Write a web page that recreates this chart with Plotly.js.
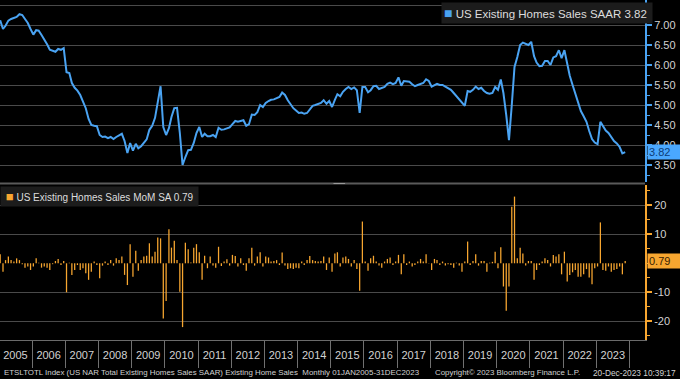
<!DOCTYPE html>
<html>
<head>
<meta charset="utf-8">
<script src="https://cdn.plot.ly/plotly-3.0.1.min.js"></script>
<style>html,body{margin:0;padding:0;background:#000;}#chart{width:680px;height:379px;}</style>
</head>
<body>
<div id="chart"></div>
<script>
// US Existing Home Sales SAAR (millions), monthly Jan 2005 - Nov 2023
const salesSAAR = [
7.12,6.90,6.98,7.11,7.15,7.18,7.20,7.27,7.25,7.15,7.05,6.90,
6.76,6.87,6.86,6.75,6.65,6.52,6.38,6.35,6.33,6.40,6.38,6.42,
5.82,5.80,5.55,5.43,5.36,5.25,5.10,4.92,4.65,4.50,4.48,4.47,
4.25,4.20,4.21,4.17,4.20,4.15,4.20,4.24,4.28,4.10,3.80,4.05,
3.86,4.03,3.92,3.97,4.06,4.14,4.38,4.48,4.68,5.08,5.47,4.45,
4.25,4.42,4.70,4.92,4.93,4.30,3.50,3.70,3.87,3.88,4.05,4.30,
4.45,4.20,4.28,4.22,4.22,4.25,4.20,4.43,4.38,4.39,4.42,4.44,
4.52,4.60,4.58,4.60,4.62,4.48,4.52,4.76,4.75,4.82,5.00,4.95,
5.05,5.10,5.13,5.14,5.16,5.20,5.31,5.25,5.12,5.02,4.92,4.86,
4.80,4.81,4.78,4.80,4.90,4.98,5.00,5.02,5.05,5.12,5.03,5.10,
4.95,5.13,5.27,5.22,5.33,5.40,5.45,5.40,5.44,5.37,4.80,5.45,
5.45,5.32,5.37,5.47,5.48,5.40,5.42,5.45,5.53,5.56,5.52,5.55,
5.69,5.48,5.60,5.58,5.58,5.52,5.47,5.50,5.53,5.55,5.64,5.60,
5.46,5.50,5.53,5.50,5.50,5.46,5.43,5.38,5.30,5.22,5.15,5.05,
4.98,5.35,5.33,5.38,5.46,5.40,5.43,5.35,5.30,5.28,5.30,5.45,
5.38,5.64,5.30,4.75,4.12,5.00,5.95,6.20,6.50,6.56,6.52,6.50,
6.58,6.22,6.06,5.97,5.98,6.10,6.10,6.00,6.19,6.22,6.37,6.17,
6.37,6.05,5.73,5.50,5.30,5.10,4.85,4.72,4.58,4.35,4.15,4.06,
4.02,4.58,4.48,4.36,4.30,4.20,4.10,4.04,3.95,3.79,3.82
];
// US Existing Home Sales MoM % (SA), same months
const salesMoM = [
3.1,-2.9,1.1,2.3,1.1,0.6,1.7,1.1,-0.3,-1.5,-1.1,-2.3,
-1.1,1.7,0.2,-1.5,-1.1,-1.5,-2.3,-0.3,0.8,1.5,-0.6,0.8,
-10,0.2,-4,-2.3,-0.6,-2.3,-1.7,-3.4,-5.7,-2.9,0.6,-0.6,
-5.2,-0.8,0.6,-0.6,1.1,-0.8,1.7,1.1,2.3,-4,-7.5,6.6,
-4.6,4.3,-2.6,1.1,2.3,2.6,6.9,2.3,4.0,8.9,8.6,-19,
-13,11.7,5.4,7.8,1.1,-9.8,-22,7.1,4.8,0.3,5.4,6.6,
3.8,-5.7,2.6,-1.7,2.3,-0.8,-1.5,5.7,-0.9,0.6,1.4,-0.8,
2.9,2.5,-1.1,1.7,-0.6,-2.6,1.7,5.4,-0.8,2.3,3.8,-1.1,
2.3,2.0,0.6,0.8,1.1,-0.6,3.7,-0.8,-2.0,-1.7,-2.0,-1.5,
-1.7,0.6,-0.6,1.1,2.5,1.1,0.8,0.6,0.8,2.3,-2.3,2.0,
-2.9,3.4,3.8,-1.1,2.0,2.3,1.5,-1.1,1.1,-2.0,-9.5,14.4,
0.6,-2.6,1.7,2.6,0.6,-0.8,-1.5,0.6,1.5,2.0,-0.6,0.6,
2.9,-3.8,3.1,-0.6,0.6,-1.1,-0.6,0.6,1.5,0.6,3.1,0.1,
-2.3,1.5,1.1,-0.6,0.6,-0.8,-0.3,-0.6,-1.5,0.2,-0.8,-2.9,
0.6,7.5,-0.6,0.8,3.1,-0.8,0.8,0.8,-2.9,0.2,0.5,4.0,
-1.7,5.5,-8,-16.4,-8,19.5,23,1.7,5.4,3.4,-0.8,0.8,
0.8,-5.7,-2.3,-0.6,0.6,1.7,1.1,-1.1,2.9,2.3,3.1,-3.8,
4.0,-6.3,-4.0,-3.1,-2.3,-4.6,-4.6,-3.8,-2.0,-4.9,-7.2,-1.7,
-1.1,14.1,-2.3,-2.6,-1.1,-2.9,-2.3,-2.0,-1.1,-3.8,0.79
];
const firstYear = 2005;
const yearLabels = ['2005','2006','2007','2008','2009','2010','2011','2012','2013','2014','2015','2016','2017','2018','2019','2020','2021','2022','2023'];
const topTicks = [3.5,4.0,4.5,5.0,5.5,6.0,6.5,7.0,7.5];
const topTickText = ['3.50','4.00','4.50','5.00','5.50','6.00','6.50','7.00','7.50'];
const botTicks = [-20,-10,10,20];
const botTickText = ['-20','-10','10','20'];
const seriesNames = ['US Existing Homes Sales SAAR', 'US Existing Homes Sales MoM SA'];
const footerLeft = 'ETSLTOTL Index (US NAR Total Existing Homes Sales SAAR) Existing Home Sales  Monthly 01JAN2005-31DEC2023';
const footerMid = 'Copyright\u00A9 2023 Bloomberg Finance L.P.';
const footerRight = '20-Dec-2023 10:39:17';

const months = salesSAAR.map((_, i) => {
  const y = firstYear + Math.floor(i / 12), m = (i % 12) + 1;
  return y + '-' + String(m).padStart(2, '0') + '-15';
});
const yearMid = yearLabels.map(y => y + '-07-02');
const yearStarts = yearLabels.map(y => y + '-01-01').concat([(+yearLabels[yearLabels.length-1] + 1) + '-01-01']);

const BLUE = '#4aa3f2', ORANGE = '#f7a630', GRID = '#4a4a4a', TXT = '#d2d2d2';
const FONT = 'Liberation Sans, Arial, sans-serif';
const lastLevel = salesSAAR[salesSAAR.length - 1];
const lastMoM = salesMoM[salesMoM.length - 1];

const traces = [
  {x: months, y: salesSAAR, type: 'scatter', mode: 'lines', line: {color: BLUE, width: 2}, xaxis: 'x', yaxis: 'y', hoverinfo: 'skip'},
  {x: months, y: salesMoM, type: 'bar', marker: {color: ORANGE, line: {width: 0}}, xaxis: 'x2', yaxis: 'y2', hoverinfo: 'skip'}
];

const sq = (c, s) => '<span style="color:' + c + ';font-size:' + s + 'px">\u25A0</span>';
const xRange = ['2005-01-13', '2024-06-20'];
const layout = {
  width: 680, height: 379,
  margin: {l: 0, r: 35, t: 0, b: 39},
  paper_bgcolor: '#000', plot_bgcolor: '#000',
  showlegend: false, bargap: 0.5,
  font: {family: FONT, color: TXT, size: 11},
  xaxis: {domain: [0, 1], anchor: 'y', range: xRange, type: 'date', showticklabels: false, ticks: '', showgrid: false, zeroline: false, showline: false},
  xaxis2: {domain: [0, 1], anchor: 'y2', range: xRange, type: 'date', matches: 'x',
    tickmode: 'array', tickvals: yearMid, ticktext: yearLabels, ticks: '', showgrid: false, zeroline: false,
    showline: true, linecolor: '#6a6a6a', linewidth: 1, ticklabelstandoff: 5,
    tickfont: {size: 11, color: TXT, family: FONT},
    minor: {tickmode: 'array', tickvals: yearStarts, ticks: 'outside', ticklen: 27, tickcolor: '#707070', tickwidth: 1, showgrid: false}},
  yaxis: {domain: [0.4647, 1], anchor: 'x', side: 'right', range: [3.075, 7.625],
    tickmode: 'array', tickvals: topTicks, ticktext: topTickText, showgrid: true, gridcolor: GRID, gridwidth: 1, zeroline: false,
    showline: true, linecolor: BLUE, linewidth: 2, ticks: 'outside', ticklen: 5, tickcolor: BLUE, tickwidth: 2,
    tickfont: {size: 11, color: TXT, family: FONT},
    minor: {dtick: 0.25, tick0: 0, ticks: 'outside', ticklen: 3, tickcolor: BLUE, tickwidth: 1, showgrid: false}},
  yaxis2: {domain: [0, 0.4559], anchor: 'x2', side: 'right', range: [-26.45, 27.0],
    tickmode: 'array', tickvals: botTicks, ticktext: botTickText, showgrid: true, gridcolor: GRID, gridwidth: 1, zeroline: false,
    showline: true, linecolor: ORANGE, linewidth: 2, ticks: 'outside', ticklen: 5, tickcolor: ORANGE, tickwidth: 2,
    tickfont: {size: 11, color: TXT, family: FONT},
    minor: {dtick: 5, tick0: 0, ticks: 'outside', ticklen: 3, tickcolor: ORANGE, tickwidth: 1, showgrid: false}},
  shapes: [
    {type: 'line', xref: 'paper', yref: 'paper', x0: 0, x1: 1, y0: 0.4603, y1: 0.4603, line: {color: '#5a5a5a', width: 2}},
    {type: 'rect', xref: 'paper', yref: 'paper', x0: 0.517, x1: 0.535, y0: 0.4588, y1: 0.4618, fillcolor: '#9a9a9a', line: {width: 0}}
  ],
  annotations: [
    {xref: 'paper', yref: 'paper', x: 0.684, y: 0.994, xanchor: 'left', yanchor: 'top', showarrow: false, align: 'left',
     text: sq(BLUE, 14) + ' ' + seriesNames[0] + ' ' + lastLevel.toFixed(2) + '&nbsp;',
     bgcolor: '#1c1c1c', borderpad: 2, font: {size: 11.5, color: '#dcdcdc', family: FONT}},
    {xref: 'paper', yref: 'paper', x: 0.0, y: 0.4515, xanchor: 'left', yanchor: 'top', showarrow: false, align: 'left',
     text: ' ' + sq(ORANGE, 13) + ' ' + seriesNames[1] + ' ' + lastMoM.toFixed(2) + ' ',
     bgcolor: '#1c1c1c', borderpad: 2, font: {size: 10, color: '#dcdcdc', family: FONT}},
    {xref: 'paper', yref: 'y', x: 1.003, y: lastLevel, xanchor: 'left', yanchor: 'middle', showarrow: false,
     text: lastLevel.toFixed(2) + '&nbsp;&nbsp;&nbsp;', bgcolor: '#4aa8ff', borderpad: 1, font: {size: 11, color: '#0d3d78', family: FONT}},
    {xref: 'paper', yref: 'y2', x: 1.003, y: lastMoM, xanchor: 'left', yanchor: 'middle', showarrow: false,
     text: lastMoM.toFixed(2) + '&nbsp;&nbsp;&nbsp;', bgcolor: '#f7a630', borderpad: 1, font: {size: 11, color: '#3a2200', family: FONT}},
    {xref: 'paper', yref: 'paper', x: 0.003, y: -0.097, xanchor: 'left', yanchor: 'middle', showarrow: false,
     text: footerLeft, font: {size: 7.9, color: TXT, family: FONT}},
    {xref: 'paper', yref: 'paper', x: 0.671, y: -0.097, xanchor: 'left', yanchor: 'middle', showarrow: false,
     text: footerMid, font: {size: 7.9, color: TXT, family: FONT}},
    {xref: 'paper', yref: 'paper', x: 1.051, y: -0.097, xanchor: 'right', yanchor: 'middle', showarrow: false,
     text: footerRight, font: {size: 8.3, color: TXT, family: FONT}}
  ]
};

Plotly.newPlot('chart', traces, layout, {displayModeBar: false, staticPlot: true});
</script>
</body>
</html>
